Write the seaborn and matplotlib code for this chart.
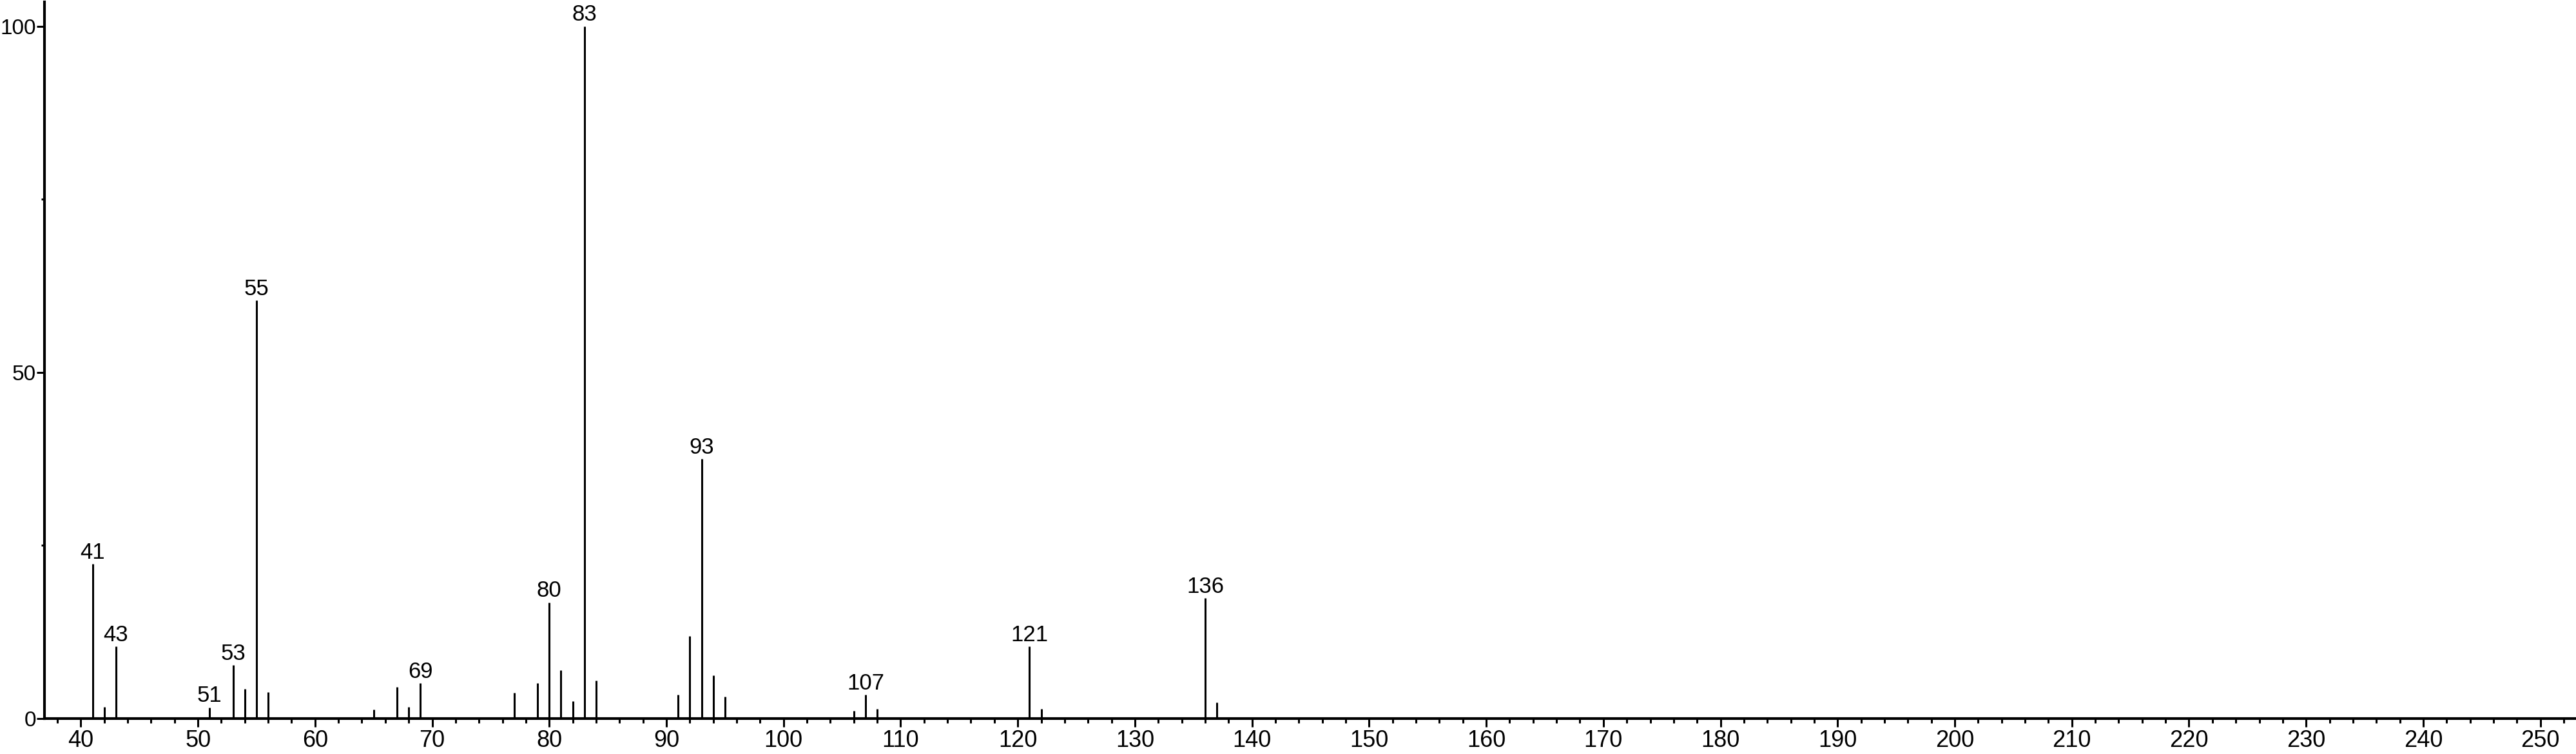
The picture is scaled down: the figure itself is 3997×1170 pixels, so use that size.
import numpy as np
import pandas as pd
import seaborn as sns
import matplotlib.pyplot as plt
from matplotlib.ticker import MultipleLocator

# m/z values and relative intensities
mz = [41, 42, 43, 51, 53, 54, 55, 56, 65, 67, 68, 69, 77, 79, 80, 81, 82, 83, 84,
      91, 92, 93, 94, 95, 106, 107, 108, 121, 122, 136, 137]
intensity = [22.3, 1.7, 10.4, 1.6, 7.7, 4.3, 60.4, 3.8, 1.3, 4.6, 1.7, 5.1, 3.7, 5.1,
             16.8, 7.0, 2.5, 100.0, 5.5, 3.4, 11.9, 37.5, 6.2, 3.2, 1.1, 3.4, 1.4,
             10.4, 1.4, 17.4, 2.3]
labelled = [41, 43, 51, 53, 55, 69, 80, 83, 93, 107, 121, 136]

spec_df = pd.DataFrame({'mz': mz, 'intensity': intensity})

sns.set_style('ticks')
plt.rcParams['font.family'] = ['Liberation Sans', 'DejaVu Sans']

fig = plt.figure(figsize=(39.98, 11.70), dpi=100)
ax = fig.add_axes([69 / 3998, 55 / 1170, (3998 - 69) / 3998, (1115 - 3) / 1170])

ax.vlines(spec_df['mz'], 0, spec_df['intensity'], color='black', linewidth=2.2)

for _, row in spec_df[spec_df['mz'].isin(labelled)].iterrows():
    ax.annotate(str(int(row['mz'])), (row['mz'], row['intensity']),
                xytext=(0, 1), textcoords='offset points',
                ha='center', va='bottom', fontsize=25, color='black')

ax.set_xlim(36.9, 253.1)
ax.set_ylim(0, 103.5)

ax.xaxis.set_major_locator(MultipleLocator(10))
ax.xaxis.set_minor_locator(MultipleLocator(2))
ax.set_yticks([0, 50, 100])
ax.yaxis.set_minor_locator(MultipleLocator(25))

sns.despine(ax=ax)
for side in ['left', 'bottom']:
    ax.spines[side].set_linewidth(3)
    ax.spines[side].set_color('black')

ax.tick_params(axis='x', which='major', length=9.5, width=2.2, pad=3, labelsize=26, colors='black')
ax.tick_params(axis='x', which='minor', length=5, width=2.2, colors='black')
ax.tick_params(axis='y', which='major', length=8.5, width=2.2, pad=0.8, labelsize=24, colors='black')
ax.tick_params(axis='y', which='minor', length=3.5, width=2.2, colors='black')

ax.set_xlabel('')
ax.set_ylabel('')

fig.savefig('out.png', dpi=100)
